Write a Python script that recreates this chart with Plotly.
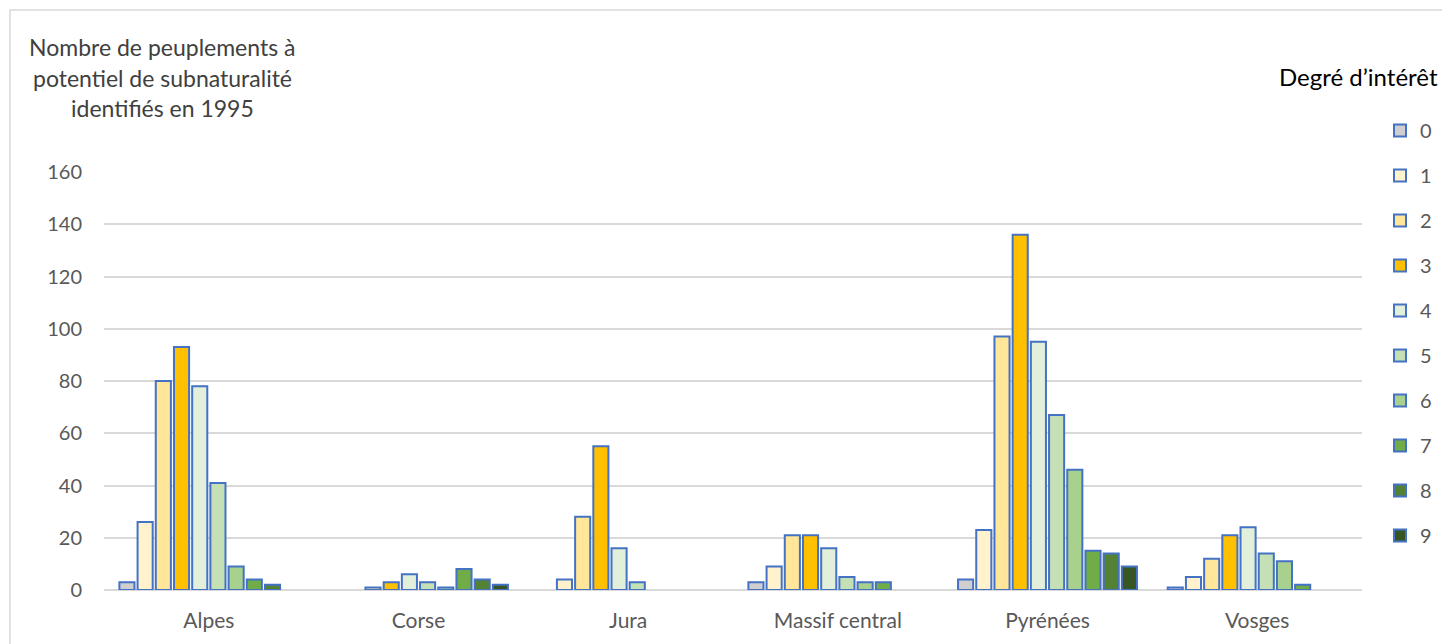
import plotly.graph_objects as go

# Massifs and interest degrees
massifs = ["Alpes", "Corse", "Jura", "Massif central", "Pyrénées", "Vosges"]
degres = ["0", "1", "2", "3", "4", "5", "6", "7", "8", "9"]

# Number of stands per massif, one list per interest degree
deg0 = [3, 0, 0, 3, 4, 1]
deg1 = [26, 0, 4, 9, 23, 5]
deg2 = [80, 1, 28, 21, 97, 12]
deg3 = [93, 3, 55, 21, 136, 21]
deg4 = [78, 6, 16, 16, 95, 24]
deg5 = [41, 3, 3, 5, 67, 14]
deg6 = [9, 1, 0, 3, 46, 11]
deg7 = [4, 8, 0, 3, 15, 2]
deg8 = [2, 4, 0, 0, 14, 0]
deg9 = [0, 2, 0, 0, 9, 0]
series = [deg0, deg1, deg2, deg3, deg4, deg5, deg6, deg7, deg8, deg9]

colors = ["#D0CECE", "#FFF2CC", "#FFE699", "#FFC000", "#E2EFDA",
          "#C5E0B4", "#A9D18E", "#70AD47", "#548235", "#375623"]

y_title_lines = ["Nombre de peuplements à", "potentiel de subnaturalité", "identifiés en 1995"]
legend_title = "Degré d\u2019intérêt"
y_ticks = [0, 20, 40, 60, 80, 100, 120, 140, 160]

W, H = 1442, 644
L, R, T, B = 104, 80, 172, 54
plot_w = W - L - R
plot_h = H - T - B


def px(x):
    return (x - L) / plot_w


def py(y):
    return (H - B - y) / plot_h


FONT = "Lato"
fig = go.Figure()
for name, vals, col in zip(degres, series, colors):
    # empty categories get no bar at all (no outline on the baseline)
    fig.add_trace(go.Bar(
        x=massifs, y=[v if v else None for v in vals], name=name, legendgroup=name,
        marker=dict(color=col, line=dict(color="#4472C4", width=2)),
    ))

fig.update_layout(
    width=W, height=H,
    margin=dict(l=L, r=R, t=T, b=B, autoexpand=False),
    paper_bgcolor="white", plot_bgcolor="white",
    barmode="group", bargap=0.132, bargroupgap=0.17,
    font=dict(family=FONT, size=20, color="#595959"),
    xaxis=dict(showgrid=False, showline=False, ticks="", ticklabelstandoff=16,
               tickfont=dict(size=21, color="#595959")),
    yaxis=dict(range=[0, 160], tickvals=y_ticks, showgrid=True, gridcolor="#D9D9D9",
               gridwidth=1.5, zeroline=True, zerolinecolor="#D9D9D9", zerolinewidth=1.5,
               ticks="", ticklabelstandoff=21, tickfont=dict(size=20, color="#595959")),
    legend=dict(x=px(1380), xanchor="left", y=py(111), yanchor="top",
                traceorder="grouped", tracegroupgap=16, maxheight=620,
                font=dict(size=20, color="#595959"), itemwidth=30,
                bgcolor="rgba(0,0,0,0)"),
    showlegend=True,
)

# Chart border
fig.add_shape(type="rect", xref="paper", yref="paper",
              x0=px(10), y0=py(10), x1=px(1460), y1=py(660),
              line=dict(color="#D9D9D9", width=1.5), layer="below")

# Axis title lines
for i, line in enumerate(y_title_lines):
    fig.add_annotation(text=line, xref="paper", yref="paper", x=px(162), y=py(47 + 30.5 * i),
                       xanchor="center", yanchor="middle", showarrow=False,
                       font=dict(family=FONT, size=23, color="#404040"))

fig.add_annotation(text=legend_title, xref="paper", yref="paper", x=px(1440), y=py(77),
                   xanchor="right", yanchor="middle", showarrow=False,
                   font=dict(family=FONT, size=24, color="#000000"))

fig.write_html("out.html")
